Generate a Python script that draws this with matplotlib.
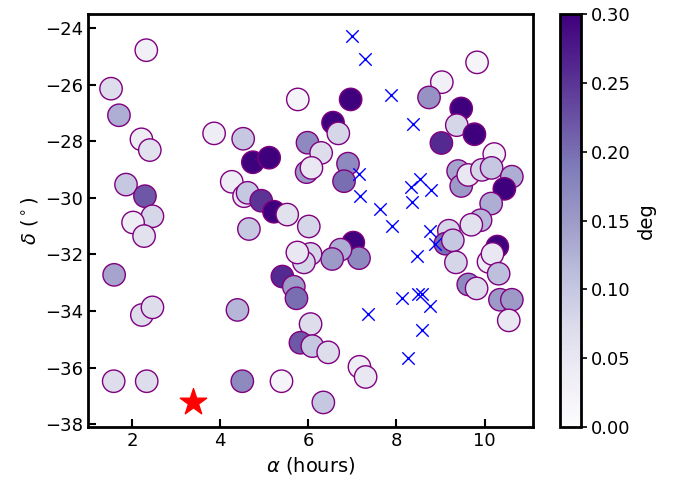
import numpy as np
import matplotlib
matplotlib.use('Agg')
import matplotlib.pyplot as plt

# Champs observés : ascension droite (heures), déclinaison (degrés), écart (deg)
ra = [2.32, 1.52, 1.70, 2.21, 2.40, 1.86, 2.29, 2.46, 2.02, 2.27,
      1.59, 2.22, 2.46, 1.58, 2.33, 3.86, 4.52, 4.26, 4.54, 4.62,
      4.74, 5.11, 4.93, 5.22, 5.52, 4.65, 6.01, 5.76, 6.96, 6.56,
      6.68, 5.98, 6.29, 5.96, 6.07, 6.90, 6.81, 7.02, 7.15, 6.73,
      6.54, 6.05, 5.90, 5.75, 5.41, 5.67, 5.73, 4.39, 6.05, 5.82,
      6.09, 6.45, 7.16, 7.30, 4.50, 5.39, 6.34, 9.83, 9.03, 8.74,
      9.47, 9.37, 9.77, 9.02, 10.22, 9.40, 9.47, 9.63, 9.94, 10.16,
      10.62, 10.45, 10.15, 9.91, 9.70, 9.19, 9.11, 9.28, 9.35, 10.29,
      10.09, 10.18, 10.32, 9.63, 9.82, 10.35, 10.62, 10.55]
dec = [-24.78, -26.14, -27.08, -27.93, -28.31, -29.53, -29.94, -30.65, -30.87, -31.35,
       -32.72, -34.14, -33.87, -36.48, -36.48, -27.72, -27.91, -29.43, -29.94, -29.82,
       -28.74, -28.58, -30.10, -30.49, -30.59, -31.10, -31.01, -26.52, -26.52, -27.34,
       -27.72, -28.05, -28.41, -29.09, -28.94, -28.79, -29.41, -31.58, -32.13, -31.83,
       -32.16, -31.98, -32.28, -31.93, -32.78, -33.14, -33.55, -33.96, -34.46, -35.12,
       -35.24, -35.46, -35.97, -36.33, -36.48, -36.48, -37.23, -25.21, -25.91, -26.45,
       -26.84, -27.43, -27.75, -28.06, -28.45, -29.05, -29.58, -29.19, -29.01, -28.94,
       -29.25, -29.68, -30.20, -30.79, -30.95, -31.16, -31.62, -31.50, -32.28, -31.72,
       -32.26, -31.98, -32.68, -33.06, -33.20, -33.60, -33.60, -34.33]
offset = [0.03, 0.07, 0.13, 0.04, 0.06, 0.10, 0.22, 0.08, 0.04, 0.06,
          0.14, 0.07, 0.07, 0.07, 0.07, 0.04, 0.10, 0.04, 0.05, 0.10,
          0.30, 0.30, 0.25, 0.30, 0.06, 0.10, 0.08, 0.02, 0.30, 0.30,
          0.08, 0.17, 0.07, 0.15, 0.05, 0.17, 0.20, 0.30, 0.17, 0.13,
          0.15, 0.08, 0.08, 0.05, 0.26, 0.15, 0.20, 0.12, 0.07, 0.22,
          0.10, 0.07, 0.04, 0.05, 0.17, 0.02, 0.10, 0.02, 0.03, 0.16,
          0.30, 0.08, 0.30, 0.26, 0.03, 0.14, 0.15, 0.05, 0.08, 0.10,
          0.13, 0.30, 0.13, 0.12, 0.06, 0.08, 0.20, 0.10, 0.08, 0.30,
          0.04, 0.05, 0.11, 0.17, 0.07, 0.15, 0.15, 0.05]

# Autres positions (croix bleues)
ra_x = [6.99, 7.29, 7.88, 8.38, 7.14, 7.17, 7.63, 7.90, 8.32, 8.53, 8.79,
        8.36, 8.77, 8.88, 8.47, 8.12, 8.48, 8.57, 8.76, 7.35, 8.58, 8.26]
dec_x = [-24.28, -25.10, -26.38, -27.40, -29.14, -29.94, -30.39, -31.01, -29.61, -29.33, -29.73,
         -30.15, -31.16, -31.64, -32.07, -33.54, -33.38, -33.41, -33.82, -34.10, -34.68, -35.66]

# Position de référence (étoile rouge)
ra_star = [3.39]
dec_star = [-37.20]

fig = plt.figure(figsize=(6.94, 4.82), dpi=100)
ax = fig.add_axes([0.127, 0.114, 0.641, 0.857])
cax = fig.add_axes([0.807, 0.114, 0.030, 0.857])

sc = ax.scatter(ra, dec, c=offset, cmap='Purples', vmin=0, vmax=0.3, s=260,
                edgecolors='purple', linewidths=1.0, zorder=2)
ax.scatter(ra_x, dec_x, marker='x', color='blue', s=80, linewidths=1.0, zorder=3)
ax.scatter(ra_star, dec_star, marker='*', color='red', s=400, zorder=3)

ax.set_xlim(1.0, 11.1)
ax.set_ylim(-38.1, -23.5)
ax.set_xticks([2, 4, 6, 8, 10])
ax.set_yticks([-24, -26, -28, -30, -32, -34, -36, -38])
ax.tick_params(direction='in', length=6, width=1.5, labelsize=13)
for sp in ax.spines.values():
    sp.set_linewidth(2)
ax.set_xlabel(r'$\alpha$ (hours)', fontsize=14)
ax.set_ylabel(r'$\delta$ ($^\circ$)', fontsize=14)

cb = fig.colorbar(sc, cax=cax)
cb.set_ticks([0.0, 0.05, 0.10, 0.15, 0.20, 0.25, 0.30])
cb.ax.tick_params(labelsize=13, width=1.2, length=4)
cb.outline.set_linewidth(2)
cb.set_label('deg', fontsize=14)

plt.savefig('out.png', dpi=100)
